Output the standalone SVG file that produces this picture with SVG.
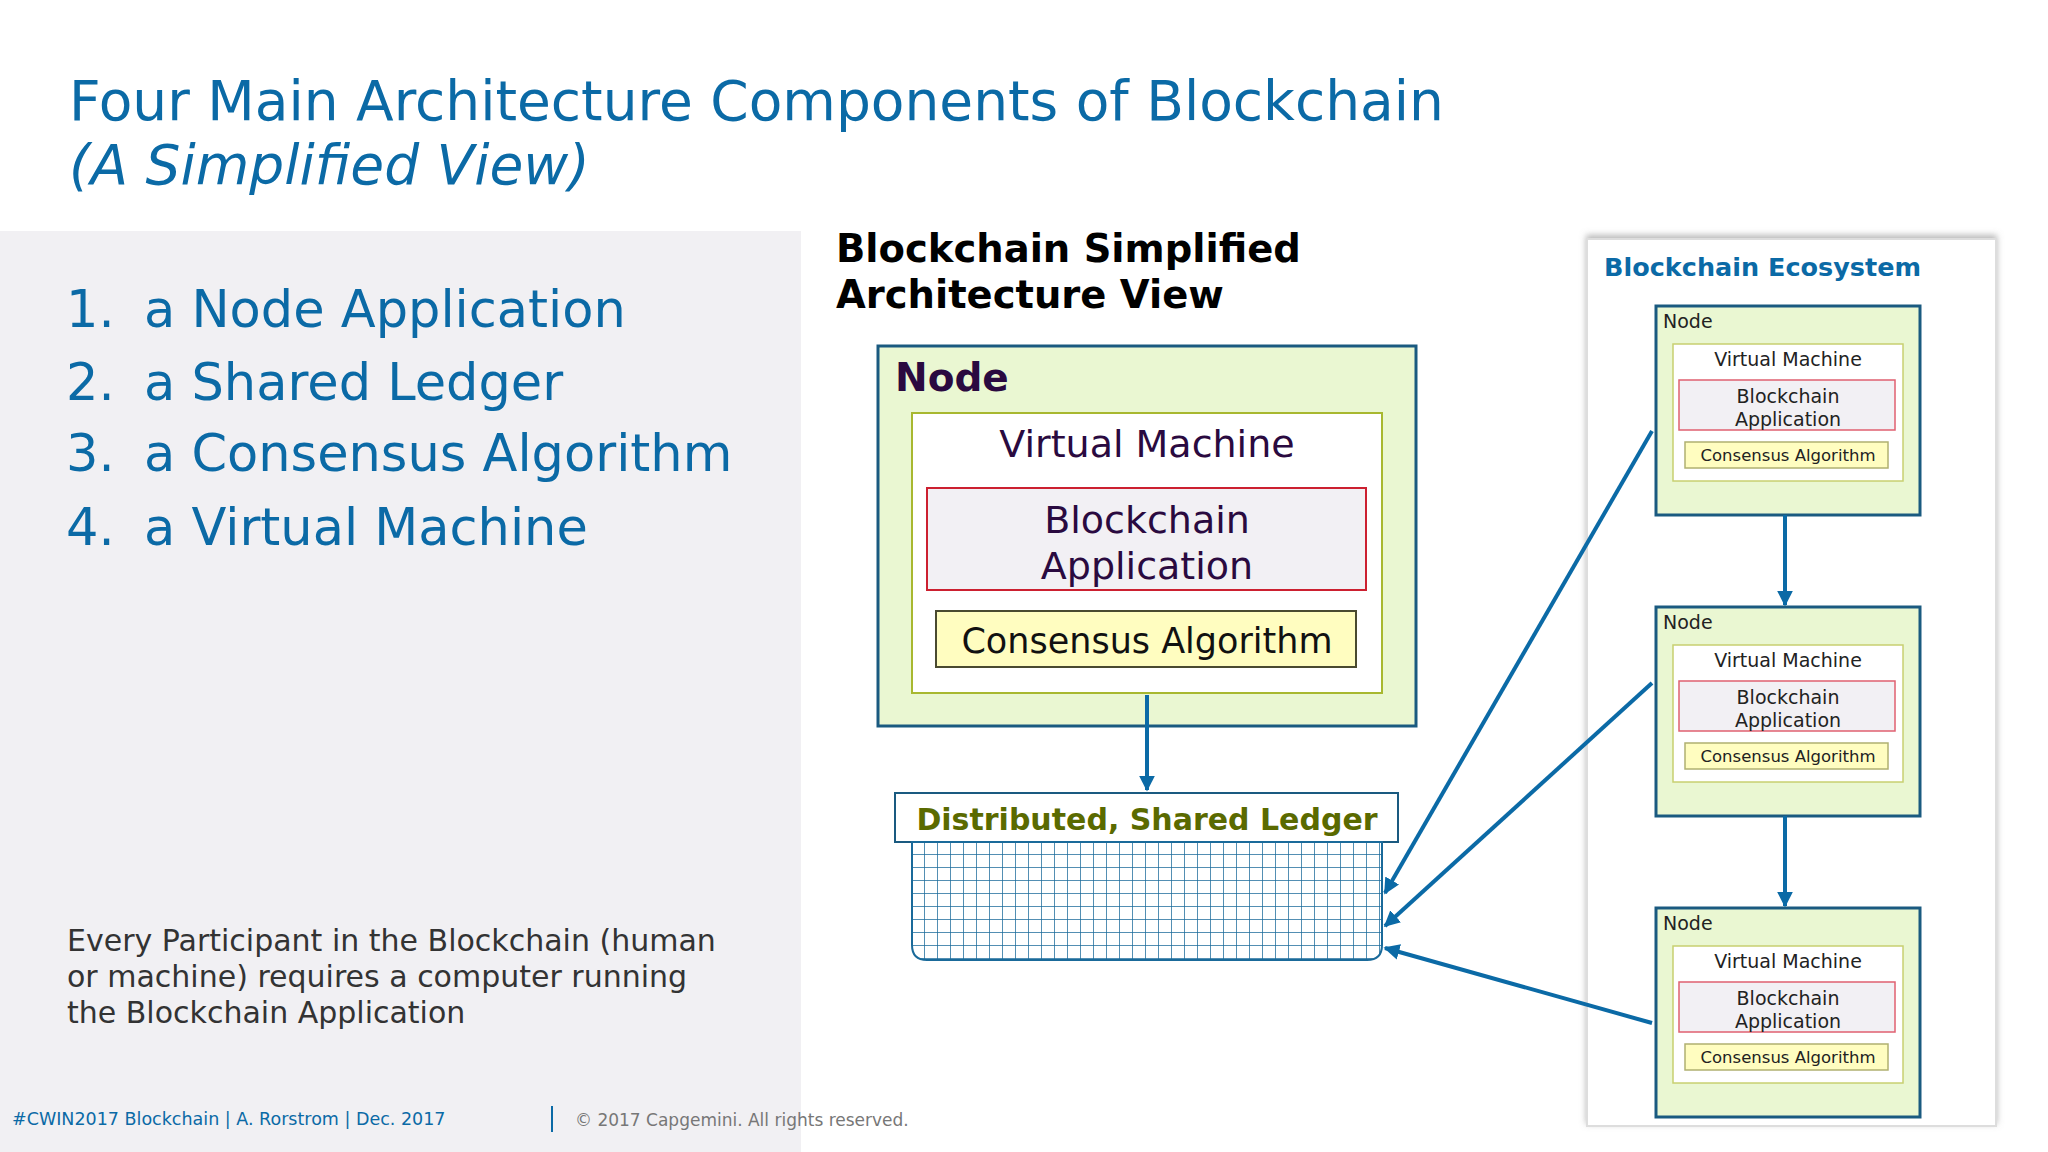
<svg xmlns="http://www.w3.org/2000/svg" width="2048" height="1152" viewBox="0 0 2048 1152">
<defs>
<marker id="ah" viewBox="0 0 10 10" refX="9" refY="5" markerWidth="4" markerHeight="4" orient="auto"><path d="M0,0 L10,5 L0,10 z" fill="#0b6aa6"/></marker>
<pattern id="grid" width="13" height="13" patternUnits="userSpaceOnUse" x="912" y="842"><path d="M13,0 V13 M0,13 H13" stroke="#1a6a9a" stroke-width="1.5" fill="none"/></pattern>
<filter id="sh" x="-5%" y="-5%" width="110%" height="110%"><feDropShadow dx="0" dy="-3" stdDeviation="3" flood-color="#888" flood-opacity="0.6"/></filter>
</defs>
<style>
text{font-family:"DejaVu Sans","Verdana",sans-serif}
.t{fill:#0b6aa6}
.d{fill:#2a0a40}
.vm{fill:#fff;stroke:#a8b830;stroke-width:2}
.ba{fill:#f2f0f4;stroke:#cc2030;stroke-width:2}
.ca{fill:#fffdc0;stroke:#4a4a30;stroke-width:2}
.nd{fill:#eaf7d2;stroke:#1a5a80;stroke-width:3}
.s .vm{stroke:#c8d070;stroke-width:1.5}
.s .ba{stroke:#e06070;stroke-width:1.5}
.s .ca{stroke:#b0b070;stroke-width:1.5}
.c{stroke:#0b6aa6;stroke-width:4;fill:none;marker-end:url(#ah)}
</style>
<rect width="2048" height="1152" fill="#fff"/>
<text x="69" y="120" font-size="55" class="t">Four Main Architecture Components of Blockchain</text>
<text x="69" y="184" font-size="55" class="t" font-style="italic">(A Simplified View)</text>
<rect x="0" y="231" width="801" height="921" fill="#f1f0f3"/>
<g font-size="51" class="t">
<text x="66" y="327">1.</text><text x="144" y="327">a Node Application</text>
<text x="66" y="400">2.</text><text x="144" y="400">a Shared Ledger</text>
<text x="66" y="471">3.</text><text x="144" y="471">a Consensus Algorithm</text>
<text x="66" y="545">4.</text><text x="144" y="545">a Virtual Machine</text>
</g>
<g font-size="30" fill="#333">
<text x="67" y="951">Every Participant in the Blockchain (human</text>
<text x="67" y="987">or machine) requires a computer running</text>
<text x="67" y="1023">the Blockchain Application</text>
</g>
<text x="12" y="1125" font-size="17.5" class="t">#CWIN2017 Blockchain | A. Rorstrom | Dec. 2017</text>
<line x1="552" y1="1106" x2="552" y2="1132" stroke="#0b6aa6" stroke-width="2"/>
<text x="575" y="1126" font-size="17" fill="#777">© 2017 Capgemini. All rights reserved.</text>
<text x="836" y="262" font-size="38.5" font-weight="bold" fill="#000">Blockchain Simplified</text>
<text x="836" y="308" font-size="38.5" font-weight="bold" fill="#000">Architecture View</text>
<g id="node-main">
<rect x="878" y="346" width="538" height="380" class="nd" stroke-width="4"/>
<text x="895" y="391" font-size="39" font-weight="bold" class="d">Node</text>
<rect x="912" y="413" width="470" height="280" class="vm"/>
<text x="1147" y="457" font-size="38" text-anchor="middle" class="d">Virtual Machine</text>
<rect x="927" y="488" width="439" height="102" class="ba"/>
<text x="1147" y="533" font-size="38" text-anchor="middle" class="d">Blockchain</text>
<text x="1147" y="579" font-size="38" text-anchor="middle" class="d">Application</text>
<rect x="936" y="611" width="420" height="56" class="ca"/>
<text x="1147" y="653" font-size="35" text-anchor="middle" fill="#111">Consensus Algorithm</text>
</g>
<g id="ledger">
<rect x="895" y="793" width="503" height="49" fill="#fff" stroke="#1a5a80" stroke-width="2"/>
<text x="1147" y="830" font-size="30" font-weight="bold" text-anchor="middle" fill="#5a6a00">Distributed, Shared Ledger</text>
<path d="M912,842 H1382 V945 Q1382,960 1367,960 H927 Q912,960 912,945 Z" fill="#fff"/>
<path d="M912,842 H1382 V945 Q1382,960 1367,960 H927 Q912,960 912,945 Z" fill="url(#grid)" stroke="#1a6a9a" stroke-width="2"/>
</g>
<g id="ecosystem">
<rect x="1587" y="239" width="409" height="887" fill="#fff" stroke="#ddd" stroke-width="2" filter="url(#sh)"/>
<text x="1604" y="276" font-size="25.5" font-weight="bold" class="t">Blockchain Ecosystem</text>
</g>
<g id="node1" class="s" transform="translate(1656,306)">
<rect width="264" height="209" class="nd"/>
<text x="7" y="22" font-size="19" fill="#222">Node</text>
<rect x="17" y="38" width="230" height="137" class="vm"/>
<text x="132" y="60" font-size="19" text-anchor="middle" fill="#222">Virtual Machine</text>
<rect x="23" y="74" width="216" height="50" class="ba"/>
<text x="132" y="97" font-size="19" text-anchor="middle" fill="#222">Blockchain</text>
<text x="132" y="120" font-size="19" text-anchor="middle" fill="#222">Application</text>
<rect x="29" y="136" width="203" height="26" class="ca"/>
<text x="132" y="155" font-size="16.5" text-anchor="middle" fill="#222">Consensus Algorithm</text>
</g>
<g id="node2" class="s" transform="translate(1656,607)">
<rect width="264" height="209" class="nd"/>
<text x="7" y="22" font-size="19" fill="#222">Node</text>
<rect x="17" y="38" width="230" height="137" class="vm"/>
<text x="132" y="60" font-size="19" text-anchor="middle" fill="#222">Virtual Machine</text>
<rect x="23" y="74" width="216" height="50" class="ba"/>
<text x="132" y="97" font-size="19" text-anchor="middle" fill="#222">Blockchain</text>
<text x="132" y="120" font-size="19" text-anchor="middle" fill="#222">Application</text>
<rect x="29" y="136" width="203" height="26" class="ca"/>
<text x="132" y="155" font-size="16.5" text-anchor="middle" fill="#222">Consensus Algorithm</text>
</g>
<g id="node3" class="s" transform="translate(1656,908)">
<rect width="264" height="209" class="nd"/>
<text x="7" y="22" font-size="19" fill="#222">Node</text>
<rect x="17" y="38" width="230" height="137" class="vm"/>
<text x="132" y="60" font-size="19" text-anchor="middle" fill="#222">Virtual Machine</text>
<rect x="23" y="74" width="216" height="50" class="ba"/>
<text x="132" y="97" font-size="19" text-anchor="middle" fill="#222">Blockchain</text>
<text x="132" y="120" font-size="19" text-anchor="middle" fill="#222">Application</text>
<rect x="29" y="136" width="203" height="26" class="ca"/>
<text x="132" y="155" font-size="16.5" text-anchor="middle" fill="#222">Consensus Algorithm</text>
</g>
<g id="connectors">
<line x1="1147" y1="695" x2="1147" y2="790" class="c"/>
<line x1="1785" y1="515" x2="1785" y2="605" class="c"/>
<line x1="1785" y1="816" x2="1785" y2="906" class="c"/>
<line x1="1652" y1="431" x2="1385" y2="893" class="c"/>
<line x1="1652" y1="683" x2="1385" y2="926" class="c"/>
<line x1="1652" y1="1023" x2="1385" y2="948" class="c"/>
</g>
</svg>
